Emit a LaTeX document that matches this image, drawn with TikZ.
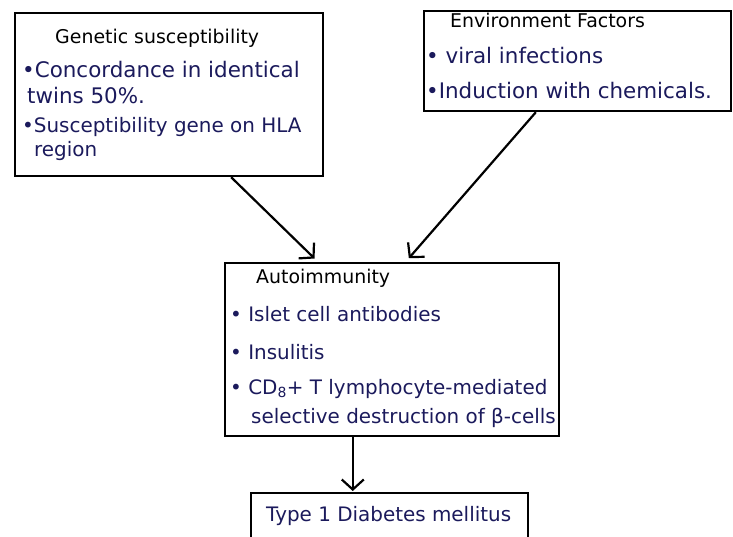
\documentclass[tikz,border=0pt]{standalone}
\usepackage{fontspec}
\setmainfont{DejaVu Sans}
\usetikzlibrary{arrows.meta,calc}
\definecolor{ink}{HTML}{1B1A5C}
\begin{document}
\begin{tikzpicture}[x=1bp,y=-1bp,
  box/.style={draw, line width=2.2bp, rectangle, inner sep=0, anchor=north west},
  head/.style={font=\fontsize{19}{22}\selectfont, text=black, anchor=base west, inner sep=0},
  item/.style={font=\fontsize{21.5}{24}\selectfont, text=ink, anchor=base west, inner sep=0},
  small/.style={font=\fontsize{20}{24}\selectfont},
  link/.style={line width=2.2bp, shorten >=5bp,
    -{Straight Barb[length=10bp,width=22bp,line width=2.2bp]}}
]
\clip (0,0) rectangle (733,537);
\fill[white] (0,0) rectangle (733,537);

% boxes
\node[box, minimum width=308bp, minimum height=163bp] (gen)  at (14,12)  {};
\node[box, minimum width=307bp, minimum height=100bp] (env)  at (423,10) {};
\node[box, minimum width=334bp, minimum height=173bp] (auto) at (224,262) {};
\node[box, minimum width=277bp, minimum height=60bp]  (t1d)  at (250,492) {};

% genetic susceptibility
\node[head] (genT) at (55,44)  {Genetic susceptibility};
\node[item] (gen1) at (22,78)  {•Concordance in identical};
\node[item] (gen2) at (27,104) {twins 50\%.};
\node[item, small] (gen3) at (22,133) {•Susceptibility gene on HLA};
\node[item, small] (gen4) at (34,157) {region};

% environment factors
\node[head] (envT) at (450,28) {Environment Factors};
\node[item] (env1) at (426,64) {• viral infections};
\node[item] (env2) at (426,99) {•Induction with chemicals.};

% autoimmunity
\node[head] (autT) at (256,284) {Autoimmunity};
\node[item, small] (aut1) at (230,321) {• Islet cell antibodies};
\node[item, small] (aut2) at (230,359) {• Insulitis};
\node[item, small] (aut3) at (230,394) {• CD\textsubscript{8}+ T lymphocyte-mediated};
\node[item, small] (aut4) at (251,423) {selective destruction of β-cells};

% outcome
\node[item, small] (t1dT) at (266,521) {Type 1 Diabetes mellitus};

% connectors
\coordinate (gA) at ($(gen.south west)!0.70!(gen.south east)$);
\coordinate (gB) at ($(auto.north west)!0.28!(auto.north east)$);
\coordinate (eA) at ($(env.south west)!0.365!(env.south east)$);
\coordinate (eB) at ($(auto.north west)!0.54!(auto.north east)$);
\coordinate (aA) at ($(auto.south west)!0.383!(auto.south east)$);
\draw[link] (gA) -- (gB);
\draw[link] (eA) -- (eB);
\draw[link, shorten >=1bp] (aA) -- (aA |- t1d.north);
\end{tikzpicture}
\end{document}
